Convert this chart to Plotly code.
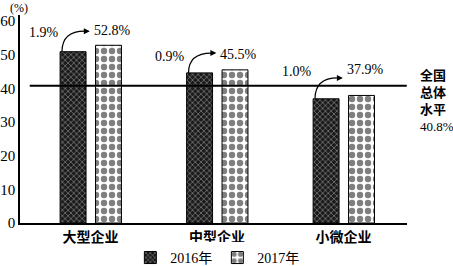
import plotly.graph_objects as go

categories = ["大型企业", "中型企业", "小微企业"]
v2016 = [50.9, 44.6, 36.9]
v2017 = [52.8, 45.5, 37.9]
growth = ["1.9%", "0.9%", "1.0%"]
v2017_labels = ["52.8%", "45.5%", "37.9%"]
national = 40.8
national_label = "<b>全国<br>总体<br>水平</b><br>40.8%"
y_ticks = [0, 10, 20, 30, 40, 50, 60]

# style constants
label_lift = [4.3, 4.6, 7.6]
arrow_lift = [4.2, 5.0, 5.2]

SERIF = '"Liberation Serif", "Noto Sans CJK SC"'
CJK = '"Noto Sans CJK SC"'

xs = list(range(len(categories)))
fig = go.Figure()
fig.add_trace(go.Bar(
    x=xs, y=v2016, name="2016年", width=0.205, offset=-0.24,
    marker=dict(color="black", line=dict(color="black", width=1),
                pattern=dict(shape="x", fgcolor="white", bgcolor="#1a1a1a",
                             size=4, solidity=0.3)),
))
fig.add_trace(go.Bar(
    x=xs, y=v2017, name="2017年", width=0.205, offset=0.04,
    marker=dict(color="white", line=dict(color="black", width=1),
                pattern=dict(shape=".", fgcolor="black", bgcolor="white",
                             size=8, solidity=0.5)),
))

# national level line
fig.add_shape(type="line", xref="x", yref="y", x0=-0.48, x1=2.5,
              y0=national, y1=national, line=dict(color="black", width=2))
fig.add_annotation(xref="paper", yref="y", x=1.028, y=36.2, xanchor="left",
                   yanchor="middle", align="left", showarrow=False,
                   text=national_label,
                   font=dict(family=SERIF, size=13, color="black"))

for i, c in enumerate(xs):
    sx, sy = c - 0.225, v2016[i]
    ex, ey = c - 0.005, v2017[i] + arrow_lift[i]
    cx, cy = c - 0.225, ey
    fig.add_shape(type="path", xref="x", yref="y",
                  path=f"M {sx},{sy} Q {cx},{cy} {ex - 0.04},{ey}",
                  line=dict(color="black", width=1.2))
    fig.add_annotation(x=ex, y=ey, ax=ex - 0.05, ay=ey, axref="x", ayref="y",
                       xref="x", yref="y", text="", showarrow=True,
                       arrowhead=2, arrowsize=1, arrowwidth=1.2,
                       arrowcolor="black")
    ly = v2017[i] + label_lift[i]
    fig.add_annotation(x=c + 0.01, y=ly, xref="x", yref="y", xanchor="left",
                       yanchor="middle", showarrow=False, text=v2017_labels[i],
                       font=dict(family=SERIF, size=14, color="black"))
    fig.add_annotation(x=c - 0.37, y=ly - 0.5, xref="x", yref="y",
                       xanchor="center", yanchor="middle", showarrow=False,
                       text=growth[i],
                       font=dict(family=SERIF, size=14, color="black"))

fig.add_annotation(xref="paper", yref="paper", x=-0.03, y=1.035, xanchor="left",
                   yanchor="middle", showarrow=False, text="(%)",
                   font=dict(family=SERIF, size=12, color="black"))

fig.update_layout(
    width=453, height=266,
    margin=dict(l=20, r=46, t=15, b=43, autoexpand=False),
    paper_bgcolor="white", plot_bgcolor="white",
    showlegend=True, barmode="overlay",
    legend=dict(orientation="h", x=0.51, xanchor="center", y=-0.168,
                yanchor="middle", font=dict(family=SERIF, size=14, color="black"),
                itemwidth=30, tracegroupgap=0),
    xaxis=dict(range=[-0.557, 2.502], tickvals=xs, ticktext=categories,
               showline=True, linecolor="black", linewidth=1.5, ticks="",
               showgrid=False, zeroline=False, automargin=False,
               tickfont=dict(family=CJK, size=14, color="black", weight="bold")),
    yaxis=dict(range=[0, 61.8], tickvals=y_ticks, showline=True,
               linecolor="black", linewidth=1.5, ticks="", showgrid=False,
               zeroline=False, automargin=False,
               tickfont=dict(family=SERIF, size=15, color="black")),
)

fig.write_html("out.html")
